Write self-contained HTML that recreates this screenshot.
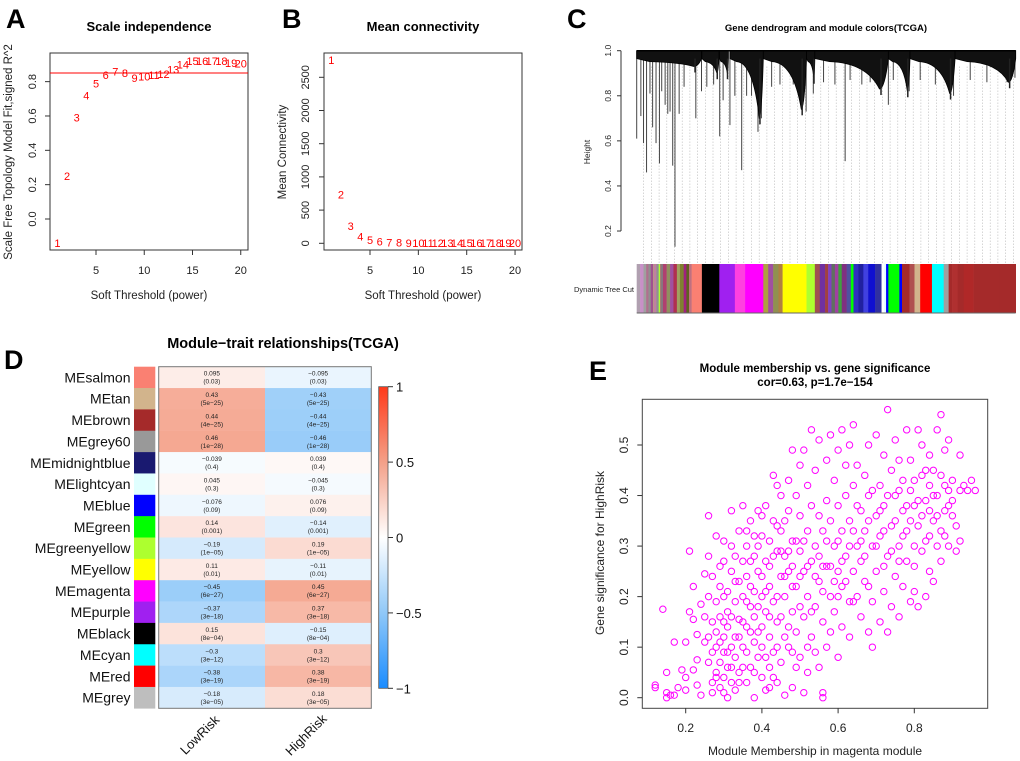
<!DOCTYPE html>
<html><head><meta charset="utf-8">
<style>
html,body{margin:0;padding:0;background:#fff;}
svg{display:block;font-family:"Liberation Sans",Arial,sans-serif;}
</style></head>
<body>
<svg id="fig" width="1020" height="761" viewBox="0 0 1020 761" xmlns="http://www.w3.org/2000/svg">
<rect width="1020" height="761" fill="#fff"/>
<g font-weight="bold" font-size="27" fill="#000">
<text x="6" y="28">A</text>
<text x="282" y="28">B</text>
<text x="567" y="28">C</text>
<text x="4" y="369">D</text>
<text x="589" y="380">E</text>
</g>
<g id="panelA"></g>
<g id="panelB"></g>
<g id="panelC"></g>
<g id="panelD"></g>
<g id="panelE"></g>
</svg>
<script>
// ---------- Data ----------
const powers = [1,2,3,4,5,6,7,8,9,10,11,12,13,14,15,16,17,18,19,20];
const scaleFitR2 = [-0.14,0.25,0.59,0.72,0.79,0.84,0.86,0.85,0.82,0.83,0.84,0.845,0.87,0.90,0.92,0.92,0.92,0.92,0.91,0.905];
const r2Cutoff = 0.85;
const meanConn = [2760,738,260,105,50,25,15,10,5,3,3,3,3,3,3,3,3,3,3,3];
const aYTicks = [0.0,0.2,0.4,0.6,0.8];
const abXTicks = [5,10,15,20];
const bYTicks = [0,500,1000,1500,2000,2500];

const modules = ["MEsalmon","MEtan","MEbrown","MEgrey60","MEmidnightblue","MElightcyan","MEblue","MEgreen","MEgreenyellow","MEyellow","MEmagenta","MEpurple","MEblack","MEcyan","MEred","MEgrey"];
const moduleColors = ["#FA8072","#D2B48C","#A52A2A","#999999","#191970","#E0FFFF","#0000FF","#00FF00","#ADFF2F","#FFFF00","#FF00FF","#A020F0","#000000","#00FFFF","#FF0000","#BEBEBE"];
const traits = ["LowRisk","HighRisk"];
const corLow = [0.095,0.43,0.44,0.46,-0.039,0.045,-0.076,0.14,-0.19,0.11,-0.45,-0.37,0.15,-0.3,-0.38,-0.18];
const corHigh = [-0.095,-0.43,-0.44,-0.46,0.039,-0.045,0.076,-0.14,0.19,-0.11,0.45,0.37,-0.15,0.3,0.38,0.18];
const pvals = ["0.03","5e-25","4e-25","1e-28","0.4","0.3","0.09","0.001","1e-05","0.01","6e-27","3e-18","8e-04","3e-12","3e-19","3e-05"];
const cbTicks = [1,0.5,0,-0.5,-1];

const eXTicks = [0.2,0.4,0.6,0.8];
const eYTicks = [0.0,0.1,0.2,0.3,0.4,0.5];
const mmGs = [[0.12,0.02],[0.12,0.025],[0.14,0.175],[0.15,0.01],[0.15,0.0],[0.15,0.05],[0.16,0.005],[0.17,0.11],[0.17,0.005],[0.18,0.02],[0.19,0.055],[0.2,0.04],[0.2,0.015],[0.2,0.11],[0.21,0.29],[0.21,0.17],[0.22,0.22],[0.22,0.155],[0.22,0.055],[0.23,0.075],[0.23,0.125],[0.23,0.025],[0.24,0.005],[0.24,0.185],[0.25,0.11],[0.25,0.16],[0.25,0.245],[0.26,0.28],[0.26,0.36],[0.26,0.07],[0.26,0.2],[0.27,0.03],[0.27,0.01],[0.27,0.15],[0.27,0.24],[0.28,0.13],[0.28,0.05],[0.28,0.1],[0.28,0.19],[0.28,0.32],[0.29,0.26],[0.29,0.02],[0.29,0.07],[0.29,0.16],[0.29,0.22],[0.3,0.04],[0.3,0.09],[0.3,0.12],[0.3,0.27],[0.3,0.31],[0.31,0.0],[0.31,0.06],[0.31,0.17],[0.31,0.21],[0.31,0.14],[0.32,0.37],[0.32,0.1],[0.32,0.03],[0.32,0.25],[0.32,0.3],[0.33,0.08],[0.33,0.19],[0.33,0.12],[0.33,0.015],[0.34,0.33],[0.34,0.05],[0.34,0.23],[0.34,0.155],[0.35,0.27],[0.35,0.1],[0.35,0.38],[0.35,0.2],[0.36,0.3],[0.36,0.03],[0.36,0.14],[0.36,0.24],[0.37,0.06],[0.37,0.35],[0.37,0.18],[0.37,0.22],[0.38,0.28],[0.38,0.11],[0.38,0.0],[0.38,0.16],[0.39,0.37],[0.39,0.25],[0.39,0.08],[0.39,0.13],[0.4,0.2],[0.4,0.32],[0.4,0.04],[0.4,0.1],[0.41,0.38],[0.41,0.015],[0.41,0.27],[0.41,0.17],[0.42,0.31],[0.42,0.22],[0.42,0.06],[0.42,0.12],[0.43,0.44],[0.43,0.35],[0.43,0.09],[0.43,0.19],[0.44,0.42],[0.44,0.29],[0.44,0.03],[0.44,0.15],[0.45,0.24],[0.45,0.4],[0.45,0.07],[0.45,0.33],[0.46,0.005],[0.46,0.2],[0.46,0.12],[0.46,0.28],[0.47,0.43],[0.47,0.37],[0.47,0.1],[0.47,0.25],[0.48,0.31],[0.48,0.02],[0.48,0.17],[0.48,0.49],[0.49,0.06],[0.49,0.22],[0.49,0.4],[0.49,0.13],[0.5,0.46],[0.5,0.29],[0.5,0.36],[0.5,0.08],[0.51,0.25],[0.51,0.16],[0.51,0.49],[0.51,0.01],[0.52,0.33],[0.52,0.2],[0.52,0.42],[0.52,0.05],[0.53,0.53],[0.53,0.27],[0.53,0.12],[0.53,0.38],[0.54,0.45],[0.54,0.18],[0.54,0.3],[0.54,0.09],[0.55,0.51],[0.55,0.23],[0.55,0.36],[0.55,0.06],[0.56,0.01],[0.56,0.0],[0.56,0.15],[0.56,0.33],[0.57,0.47],[0.57,0.26],[0.57,0.39],[0.57,0.1],[0.58,0.2],[0.58,0.52],[0.58,0.35],[0.58,0.13],[0.59,0.3],[0.59,0.43],[0.59,0.17],[0.6,0.08],[0.6,0.49],[0.6,0.25],[0.6,0.38],[0.61,0.53],[0.61,0.22],[0.61,0.33],[0.61,0.14],[0.62,0.46],[0.62,0.28],[0.62,0.4],[0.63,0.19],[0.63,0.5],[0.63,0.35],[0.63,0.12],[0.64,0.54],[0.64,0.25],[0.64,0.42],[0.65,0.3],[0.65,0.2],[0.65,0.46],[0.66,0.16],[0.66,0.37],[0.66,0.27],[0.67,0.44],[0.67,0.23],[0.67,0.33],[0.68,0.5],[0.68,0.13],[0.68,0.4],[0.69,0.3],[0.69,0.1],[0.69,0.19],[0.7,0.52],[0.7,0.36],[0.7,0.25],[0.71,0.15],[0.71,0.42],[0.71,0.32],[0.72,0.48],[0.72,0.21],[0.72,0.38],[0.73,0.57],[0.73,0.28],[0.73,0.13],[0.74,0.45],[0.74,0.34],[0.74,0.18],[0.75,0.51],[0.75,0.24],[0.75,0.4],[0.76,0.3],[0.76,0.16],[0.76,0.47],[0.77,0.37],[0.77,0.22],[0.77,0.43],[0.78,0.53],[0.78,0.27],[0.78,0.33],[0.79,0.19],[0.79,0.41],[0.79,0.47],[0.8,0.3],[0.8,0.21],[0.8,0.38],[0.81,0.53],[0.81,0.18],[0.81,0.34],[0.82,0.44],[0.82,0.29],[0.82,0.5],[0.83,0.2],[0.83,0.39],[0.83,0.31],[0.84,0.48],[0.84,0.25],[0.84,0.42],[0.85,0.35],[0.85,0.45],[0.85,0.23],[0.86,0.53],[0.86,0.3],[0.86,0.4],[0.87,0.56],[0.87,0.27],[0.87,0.44],[0.88,0.37],[0.88,0.49],[0.88,0.32],[0.89,0.41],[0.89,0.3],[0.89,0.51],[0.9,0.36],[0.9,0.43],[0.91,0.29],[0.91,0.34],[0.92,0.48],[0.92,0.31],[0.92,0.41],[0.93,0.42],[0.94,0.41],[0.95,0.43],[0.96,0.41],
[0.26,0.12],[0.27,0.09],[0.28,0.04],[0.29,0.11],[0.3,0.15],[0.3,0.2],[0.31,0.09],[0.32,0.06],[0.32,0.16],[0.33,0.23],[0.33,0.28],[0.34,0.12],[0.35,0.06],[0.35,0.15],[0.36,0.19],[0.36,0.09],[0.37,0.27],[0.37,0.13],[0.38,0.21],[0.38,0.05],[0.39,0.18],[0.39,0.3],[0.4,0.14],[0.4,0.24],[0.41,0.08],[0.41,0.21],[0.42,0.26],[0.42,0.16],[0.43,0.04],[0.43,0.28],[0.44,0.2],[0.44,0.1],[0.45,0.16],[0.45,0.29],[0.46,0.24],[0.46,0.35],[0.47,0.14],[0.47,0.29],[0.48,0.22],[0.48,0.26],[0.49,0.31],[0.5,0.18],[0.5,0.24],[0.51,0.31],[0.52,0.26],[0.53,0.17],[0.54,0.24],[0.55,0.28],[0.56,0.21],[0.57,0.31],[0.58,0.26],[0.59,0.23],[0.6,0.31],[0.61,0.27],[0.62,0.23],[0.63,0.3],[0.64,0.33],[0.65,0.38],[0.66,0.31],[0.67,0.28],[0.68,0.35],[0.69,0.41],[0.7,0.3],[0.71,0.37],[0.72,0.33],[0.73,0.4],[0.74,0.29],[0.75,0.35],[0.76,0.41],[0.77,0.32],[0.78,0.38],[0.79,0.35],[0.8,0.43],[0.81,0.39],[0.82,0.36],[0.83,0.45],[0.84,0.37],[0.85,0.4],[0.86,0.36],[0.87,0.33],[0.88,0.42],[0.89,0.38],[0.9,0.39],[0.84,0.32],[0.8,0.26],[0.76,0.27],[0.72,0.26],[0.68,0.22],[0.64,0.19],[0.6,0.2],[0.56,0.26],[0.52,0.1],[0.48,0.09],[0.44,0.34],[0.4,0.36],[0.36,0.33],[0.38,0.32],[0.42,0.02],[0.34,0.03],[0.3,0.01]];

// dendrogram data (leaf fraction 0..1 along tree, merge height)
const hangPos = [0,0.011,0.018,0.026,0.035,0.042,0.051,0.06,0.066,0.075,0.082,0.088,0.095,0.101,0.112,0.125,0.156,0.171,0.185,0.203,0.219,0.228,0.246,0.259,0.277,0.29,0.303,0.32,0.329,0.356,0.378,0.413,0.447,0.466,0.493,0.523,0.55,0.563,0.594,0.616,0.664,0.677,0.719,0.748,0.788,0.836,0.88,0.924,0.977,0.998];
const hangHeight = [0.61,0.71,0.59,0.46,0.81,0.66,0.59,0.50,0.82,0.76,0.72,0.73,0.49,0.13,0.72,0.84,0.70,0.82,0.84,0.85,0.62,0.78,0.67,0.80,0.47,0.80,0.80,0.64,0.70,0.84,0.85,0.85,0.73,0.81,0.86,0.85,0.51,0.87,0.85,0.86,0.76,0.87,0.82,0.87,0.85,0.80,0.87,0.86,0.86,0.88];
const clusterStart = [0,0.172,0.218,0.246,0.334,0.448,0.47,0.664,0.721,0.84];
const clusterEnd = [0.171,0.217,0.242,0.334,0.448,0.47,0.664,0.721,0.84,1.0];
const clusterLow = [0.93,0.90,0.90,0.70,0.74,0.88,0.83,0.82,0.81,0.86];
const cutBreaks = [0,0.009,0.018,0.025,0.031,0.037,0.043,0.044,0.052,0.058,0.062,0.065,0.069,0.079,0.088,0.097,0.106,0.114,0.124,0.131,0.138,0.145,0.172,0.218,0.259,0.286,0.334,0.347,0.36,0.374,0.385,0.448,0.47,0.483,0.497,0.505,0.514,0.523,0.532,0.541,0.554,0.565,0.572,0.585,0.598,0.611,0.629,0.646,0.653,0.658,0.664,0.693,0.7,0.72,0.733,0.748,0.779,0.81,0.823,0.832,0.847,0.863,0.889,0.957];
const cutColors = ["#B0A0B0","#C890C8","#A0A0A0","#B07090","#909090","#A05090","#B0B060","#C080A0","#909090","#ADFF2F","#A06080","#808080","#B04070","#909060","#A050A0","#B03050","#A0A060","#808030","#A02080","#606020","#C07080","#FA8072","#000000","#A020F0","#FF40E0","#FF00FF","#B0A040","#A050A0","#909050","#B08040","#FFFF00","#ADFF2F","#A05050","#7030A0","#A04040","#8040C0","#607060","#A040A0","#40A040","#803080","#5050A0","#00FF00","#3030C0","#2020A0","#4040E0","#1010D0","#3030A0","#FFFFFF","#E0FFFF","#0000FF","#00FF00","#0000FF","#A52A2A","#B05050","#D2B48C","#FF0000","#00FFFF","#A0A0A0","#A52A2A","#B03030","#A52A2A","#B02828","#A52A2A","#A52A2A"];
const cYTicks = [0.2,0.4,0.6,0.8,1.0];

// ---------- helpers ----------
const NS="http://www.w3.org/2000/svg";
function mk(parent,tag,attrs,text){const e=document.createElementNS(NS,tag);for(const k in attrs)e.setAttribute(k,attrs[k]);if(text!==undefined)e.textContent=text;parent.appendChild(e);return e;}
const fmtMinus=s=>String(s).replace(/-/g,"\u2212");

// ---------- Panel A ----------
(function(){
const g=document.getElementById('panelA');
const L=50,R=248,T=53,B=250;
const xs=p=>96+(p-5)*9.65, ys=v=>219-v*171.7;
let t=mk(g,'text',{x:149,y:31,'font-size':13,'font-weight':'bold','text-anchor':'middle'},'Scale independence');


let r=mk(g,'rect',{x:L,y:T,width:R-L,height:B-T,fill:'none',stroke:'#333','stroke-width':1});


abXTicks.forEach(v=>{mk(g,'line',{x1:xs(v),x2:xs(v),y1:B,y2:B+5,stroke:'#333'});
 const tt=mk(g,'text',{x:xs(v),y:274,'font-size':11,'text-anchor':'middle',fill:'#222'},v);
 
 });
aYTicks.forEach(v=>{mk(g,'line',{x1:L-5,x2:L,y1:ys(v),y2:ys(v),stroke:'#333'});
 const tt=mk(g,'text',{x:36,y:ys(v),'font-size':11,'text-anchor':'middle',fill:'#222',transform:`rotate(-90 36 ${ys(v)})`},v.toFixed(1));
 
 });
t=mk(g,'text',{x:149,y:299,'font-size':11.5,'text-anchor':'middle',fill:'#222'},'Soft Threshold (power)');


t=mk(g,'text',{x:12,y:152,'font-size':11.5,'text-anchor':'middle',fill:'#222',transform:'rotate(-90 12 152)'},'Scale Free Topology Model Fit,signed R^2');


const ln=mk(g,'line',{x1:L,x2:R,y1:ys(r2Cutoff),y2:ys(r2Cutoff),stroke:'#FF0000','stroke-width':1});


powers.forEach((p,i)=>{const tt=mk(g,'text',{x:xs(p),y:ys(scaleFitR2[i])+4,'font-size':11,'text-anchor':'middle',fill:'#FF0000'},p);
 
 });
})();

// ---------- Panel B ----------
(function(){
const g=document.getElementById('panelB');
const L=324,R=522,T=53,B=250;
const xs=p=>370+(p-5)*9.67, ys=v=>243.3-v*0.0664;
let t=mk(g,'text',{x:423,y:31,'font-size':13,'font-weight':'bold','text-anchor':'middle'},'Mean connectivity');


let r=mk(g,'rect',{x:L,y:T,width:R-L,height:B-T,fill:'none',stroke:'#333'});


abXTicks.forEach(v=>{mk(g,'line',{x1:xs(v),x2:xs(v),y1:B,y2:B+5,stroke:'#333'});
 const tt=mk(g,'text',{x:xs(v),y:274,'font-size':11,'text-anchor':'middle',fill:'#222'},v);
 
 });
bYTicks.forEach(v=>{mk(g,'line',{x1:L-5,x2:L,y1:ys(v),y2:ys(v),stroke:'#333'});
 const tt=mk(g,'text',{x:309,y:ys(v),'font-size':11,'text-anchor':'middle',fill:'#222',transform:`rotate(-90 309 ${ys(v)})`},v);
 
 });
t=mk(g,'text',{x:423,y:299,'font-size':11.5,'text-anchor':'middle',fill:'#222'},'Soft Threshold (power)');


t=mk(g,'text',{x:286,y:152,'font-size':11.5,'text-anchor':'middle',fill:'#222',transform:'rotate(-90 286 152)'},'Mean Connectivity');


powers.forEach((p,i)=>{const tt=mk(g,'text',{x:xs(p),y:ys(meanConn[i])+4,'font-size':11,'text-anchor':'middle',fill:'#FF0000'},p);
 
 });
})();

// ---------- Panel C ----------
(function(){
const g=document.getElementById('panelC');
const L=636.7,R=1015.7;
const xf=f=>L+f*(R-L), yh=h=>50.7+(1-h)*225.4;
let t=mk(g,'text',{x:826,y:31,'font-size':9.5,'font-weight':'bold','text-anchor':'middle'},'Gene dendrogram and module colors(TCGA)');


mk(g,'line',{x1:621,x2:621,y1:yh(1.0),y2:yh(0.2),stroke:'#333'});
cYTicks.forEach(v=>{mk(g,'line',{x1:617,x2:621,y1:yh(v),y2:yh(v),stroke:'#333'});
 const tt=mk(g,'text',{x:611,y:yh(v),'font-size':8.5,'text-anchor':'middle',fill:'#222',transform:`rotate(-90 611 ${yh(v)})`},v.toFixed(1));
 
 });
t=mk(g,'text',{x:590,y:152,'font-size':8.5,'text-anchor':'middle',fill:'#222',transform:'rotate(-90 590 152)'},'Height');


for(let x=L+7;x<R;x+=7.7){mk(g,'line',{x1:x,x2:x,y1:yh(0.93),y2:263,stroke:'#bbb','stroke-width':0.6,'stroke-dasharray':'1.5,1.5'});}
hangPos.forEach((f,i)=>{const l=mk(g,'line',{x1:xf(f),x2:xf(f),y1:yh(1.0),y2:yh(hangHeight[i]),stroke:'#444','stroke-width':1});
 
 });
clusterStart.forEach((s,i)=>{const x0=xf(s),x1=xf(clusterEnd[i]);const w=x1-x0;
 const yb=yh(clusterLow[i]), ym=yh(0.965);
 const d=`M${x0},${yh(1.0)} L${x1},${yh(1.0)} L${x1},${ym} Q${x1-w*0.05},${yb} ${x1-w*0.12},${yb} Q${x1-w*0.3},${ym+4} ${x0+w*0.2},${ym+3} L${x0},${ym} Z`;
 const p=mk(g,'path',{d:d,fill:'#111',stroke:'#000','stroke-width':0.8});
 
 
 const tl=mk(g,'line',{x1:x1-w*0.1,x2:x1-w*0.1,y1:ym,y2:yb+6,stroke:'#222','stroke-width':1.5});
 
 });
mk(g,'line',{x1:L,x2:R,y1:yh(1.0),y2:yh(1.0),stroke:'#000','stroke-width':1.5});
cutBreaks.forEach((b,i)=>{const e=i+1<cutBreaks.length?cutBreaks[i+1]:1;
 const r=mk(g,'rect',{x:xf(b),y:264,width:xf(e)-xf(b)+0.3,height:49,fill:cutColors[i]});
 
 });
mk(g,'line',{x1:L,x2:R,y1:313,y2:313,stroke:'#666'});
t=mk(g,'text',{x:604,y:292,'font-size':7.5,'text-anchor':'middle',fill:'#222'},'Dynamic Tree Cut');


})();

// ---------- Panel D ----------
function corColor(v){
 const lerp=(a,b,t)=>a.map((c,i)=>Math.round(c+(b[i]-c)*t));
 let c;const w=[255,255,255];
 if(v>=0){c=v<=0.5?lerp(w,[244,160,136],v/0.5):lerp([244,160,136],[255,58,26],(v-0.5)/0.5);}
 else{const a=-v;c=a<=0.5?lerp(w,[144,200,248],a/0.5):lerp([144,200,248],[26,140,255],(a-0.5)/0.5);}
 return `rgb(${c[0]},${c[1]},${c[2]})`;}
(function(){
const g=document.getElementById('panelD');
const L=158.7,R=371.3,T=366.7,B=708.3,rh=(B-T)/modules.length,cw=(R-L)/traits.length;
let t=mk(g,'text',{x:283,y:348,'font-size':14.5,'font-weight':'bold','text-anchor':'middle'},'Module\u2212trait relationships(TCGA)');


const cols=[corLow,corHigh];
modules.forEach((m,i)=>{const y=T+i*rh;
 const lb=mk(g,'text',{x:130.5,y:y+rh/2+5,'font-size':14,'text-anchor':'end',fill:'#111'},m);
 
 
 const sw=mk(g,'rect',{x:134,y:y,width:21.3,height:rh+0.3,fill:moduleColors[i]});
 
 
 cols.forEach((arr,j)=>{const x=L+j*cw;
  const c=mk(g,'rect',{x:x,y:y,width:cw+0.2,height:rh+0.2,fill:corColor(arr[i])});
  
  
  const tx=mk(g,'text',{x:x+cw/2,y:y+9,'font-size':6.5,'text-anchor':'middle',fill:'#222'},fmtMinus(arr[i]));
  
  
  const tp=mk(g,'text',{x:x+cw/2,y:y+17,'font-size':6.5,'text-anchor':'middle',fill:'#222'},'('+fmtMinus(pvals[i])+')');
  
  });});
mk(g,'rect',{x:L,y:T,width:R-L,height:B-T,fill:'none',stroke:'#777','stroke-width':1});
traits.forEach((tr,j)=>{const cx=L+j*cw+cw/2-9,cy=738;
 const tt=mk(g,'text',{x:cx,y:cy,'font-size':13,'text-anchor':'middle',fill:'#111',transform:`rotate(-45 ${cx} ${cy})`},tr);
 
 });
const defs=mk(g,'defs',{});
const grad=mk(defs,'linearGradient',{id:'cbg',x1:0,y1:0,x2:0,y2:1});
for(let k=0;k<=20;k++){const v=1-k/10;mk(grad,'stop',{offset:(k/20*100)+'%','stop-color':corColor(v)});}
const cbT=386.7,cbB=688.3,cys=v=>cbT+(1-v)/2*(cbB-cbT);
const cb=mk(g,'rect',{x:378.7,y:cbT,width:9.3,height:cbB-cbT,fill:'url(#cbg)',stroke:'#555','stroke-width':0.8});


cbTicks.forEach(v=>{mk(g,'line',{x1:388,x2:393,y1:cys(v),y2:cys(v),stroke:'#333'});
 const tt=mk(g,'text',{x:396,y:cys(v)+5,'font-size':13,fill:'#111'},fmtMinus(v));
 
 });
})();

// ---------- Panel E ----------
(function(){
const g=document.getElementById('panelE');
const L=642.3,R=987.7,T=399.3,B=708.3;
const xs=v=>685.7+(v-0.2)*381, ys=v=>697.7-v*505.4;
let t=mk(g,'text',{x:815,y:372,'font-size':11.5,'font-weight':'bold','text-anchor':'middle'},'Module membership vs. gene significance');


t=mk(g,'text',{x:815,y:386,'font-size':11.5,'font-weight':'bold','text-anchor':'middle'},'cor=0.63, p=1.7e\u2212154');


const r=mk(g,'rect',{x:L,y:T,width:R-L,height:B-T,fill:'none',stroke:'#444'});


eXTicks.forEach(v=>{mk(g,'line',{x1:xs(v),x2:xs(v),y1:B,y2:B+5,stroke:'#333'});
 const tt=mk(g,'text',{x:xs(v),y:732,'font-size':12,'text-anchor':'middle',fill:'#222'},v.toFixed(1));
 
 });
eYTicks.forEach(v=>{mk(g,'line',{x1:L-5,x2:L,y1:ys(v),y2:ys(v),stroke:'#333'});
 const tt=mk(g,'text',{x:628,y:ys(v),'font-size':12,'text-anchor':'middle',fill:'#222',transform:`rotate(-90 628 ${ys(v)})`},v.toFixed(1));
 
 });
t=mk(g,'text',{x:815,y:755,'font-size':12,'text-anchor':'middle',fill:'#222'},'Module Membership in magenta module');


t=mk(g,'text',{x:604,y:553,'font-size':12,'text-anchor':'middle',fill:'#222',transform:'rotate(-90 604 553)'},'Gene significance for  HighRisk');


mmGs.forEach(p=>{const c=mk(g,'circle',{cx:xs(p[0]),cy:ys(p[1]),r:3.2,fill:'none',stroke:'#FF00FF','stroke-width':1});
 
 });
})();
</script>
</body></html>
